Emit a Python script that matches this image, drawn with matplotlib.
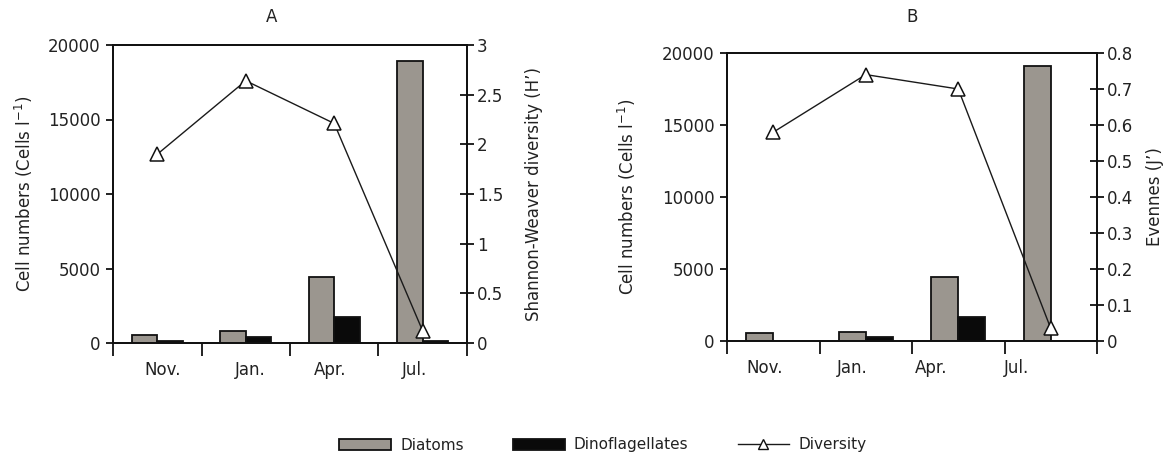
import matplotlib
matplotlib.use("Agg")
import matplotlib.pyplot as plt
from matplotlib.patches import Patch
from matplotlib.lines import Line2D
import numpy as np

months = ["Nov.", "Jan.", "Apr.", "Jul."]

# Panel A
diatoms_A = [550, 800, 4450, 18950]
dino_A = [150, 420, 1720, 150]
diversity_A = [1.90, 2.64, 2.21, 0.12]

# Panel B
diatoms_B = [550, 650, 4460, 19100]
dino_B = [0, 300, 1650, 0]
evenness_B = [0.58, 0.74, 0.70, 0.035]

label_pos_A = [0.56, 1.55, 2.45, 3.41]
label_pos_B = [0.41, 1.35, 2.21, 3.13]

W, H = 1165, 455
plt.rcParams['font.family'] = ['DejaVu Sans']
plt.rcParams['font.size'] = 12
TXT = '#222222'
GREY = '#9b968f'
BLACK = '#0a0a0a'
EDGE = '#111111'

fig = plt.figure(figsize=(W / 100, H / 100), dpi=100)


def px_axes(l, r, t, b):
    return fig.add_axes([l / W, 1 - b / H, (r - l) / W, (b - t) / H])


def panel(ax, diat, dino, line, ymax2, step2, rlabel, lpos, lpad_left, lpad_right):
    x = np.arange(len(months)) + 0.5
    bw = 0.29
    ax.bar(x - bw / 2, diat, width=bw, color=GREY, edgecolor=EDGE, linewidth=1.3, zorder=2)
    ax.bar(x + bw / 2, dino, width=bw, color=BLACK, edgecolor=EDGE, linewidth=1.3, zorder=2)
    ax.set_xlim(0, 4)
    ax.set_ylim(0, 20000)
    ax.set_yticks(np.arange(0, 20001, 5000))
    ax.set_xticks(np.arange(0, 5))
    ax.set_xticklabels([])
    ax.set_xticks(lpos, minor=True)
    ax.set_xticklabels(months, minor=True)
    ax.tick_params(axis='x', which='major', direction='out', length=9, width=1.3, colors=EDGE)
    ax.tick_params(axis='x', which='minor', length=0, pad=13, labelcolor=TXT, labelsize=12)
    ax.tick_params(axis='y', direction='out', length=5, width=1.3, colors=EDGE, labelcolor=TXT, pad=4)
    ax.set_ylabel("Cell numbers (Cells l$^{\\mathregular{-1}}$)", color=TXT, labelpad=lpad_left)
    for s in ax.spines.values():
        s.set_linewidth(1.3)
        s.set_color(EDGE)
    ax2 = ax.twinx()
    ax2.plot(x, line, color='#1a1a1a', linewidth=1.0, marker='^', markersize=10,
             markerfacecolor='white', markeredgecolor=EDGE, markeredgewidth=1.1, zorder=3)
    ax2.set_ylim(0, ymax2)
    ticks2 = np.round(np.arange(0, ymax2 + 1e-9, step2), 2)
    ax2.set_yticks(ticks2)
    ax2.set_yticklabels([('%g' % t) for t in ticks2])
    ax2.tick_params(axis='y', direction='inout', length=10, width=1.3, colors=EDGE, labelcolor=TXT, pad=2)
    ax2.set_ylabel(rlabel, color=TXT, labelpad=lpad_right)
    for s in ax2.spines.values():
        s.set_linewidth(1.3)
        s.set_color(EDGE)
    return ax2


axA = px_axes(113, 467, 45, 343)
panel(axA, diatoms_A, dino_A, diversity_A, 3.0, 0.5, "Shannon-Weaver diversity (H\u2019)",
      label_pos_A, 9, 16)

axB = px_axes(727, 1097, 53, 341)
panel(axB, diatoms_B, dino_B, evenness_B, 0.8, 0.1, "Evennes (J\u2019)",
      label_pos_B, 17, 9)

fig.text(272 / W, 1 - 17 / H, "A", ha='center', va='center', fontsize=12, color=TXT)
fig.text(912 / W, 1 - 17 / H, "B", ha='center', va='center', fontsize=12, color=TXT)

handles = [
    Patch(facecolor=GREY, edgecolor=EDGE, linewidth=1.3),
    Patch(facecolor=BLACK, edgecolor=EDGE, linewidth=1.3),
    Line2D([0], [0], color='#1a1a1a', linewidth=1.0, marker='^', markersize=7,
           markerfacecolor='white', markeredgecolor=EDGE),
]
fig.legend(handles, ["Diatoms", "Dinoflagellates", "Diversity"], loc='center',
           bbox_to_anchor=(603 / W, 1 - 445 / H), ncol=3, frameon=False,
           handlelength=3.4, handleheight=0.75, columnspacing=3.2, handletextpad=0.6,
           fontsize=11, labelcolor=TXT, borderpad=0.1)

fig.savefig("out.png", dpi=100)
